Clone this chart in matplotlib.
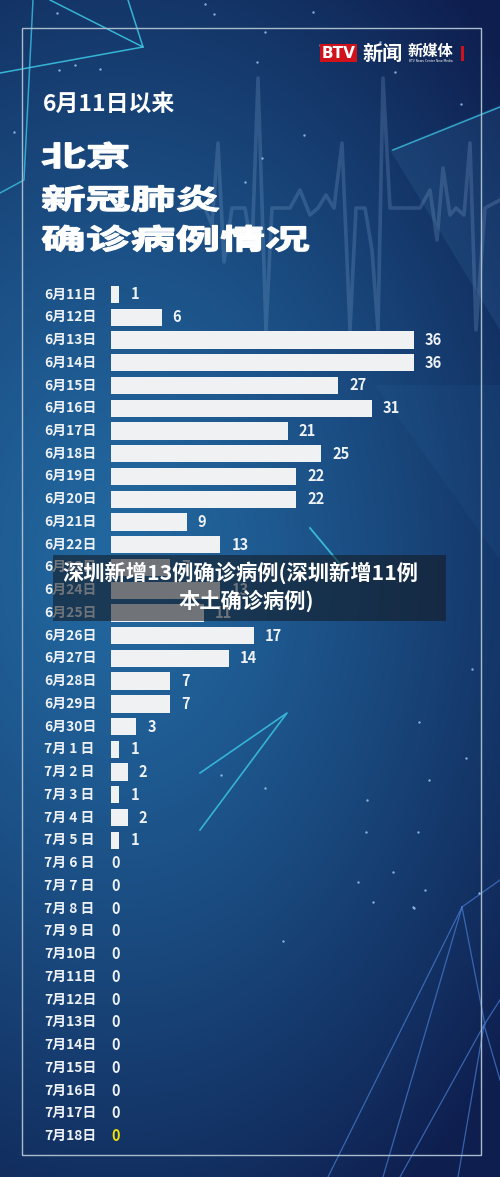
import numpy as np
import matplotlib
matplotlib.use("Agg")
import matplotlib.pyplot as plt
from matplotlib.patches import Rectangle, PathPatch
from matplotlib.textpath import TextPath
from matplotlib.font_manager import FontProperties
from matplotlib.transforms import Affine2D, blended_transform_factory

plt.rcParams['font.family'] = ['Noto Sans CJK SC', 'DejaVu Sans']

# daily confirmed cases since June 11
dates = ["6月11日", "6月12日", "6月13日", "6月14日", "6月15日", "6月16日",
         "6月17日", "6月18日", "6月19日", "6月20日", "6月21日", "6月22日",
         "6月23日", "6月24日", "6月25日", "6月26日", "6月27日", "6月28日",
         "6月29日", "6月30日", "7月 1 日", "7月 2 日", "7月 3 日", "7月 4 日",
         "7月 5 日", "7月 6 日", "7月 7 日", "7月 8 日", "7月 9 日", "7月10日",
         "7月11日", "7月12日", "7月13日", "7月14日", "7月15日", "7月16日",
         "7月17日", "7月18日"]
cases = [1, 6, 36, 36, 27, 31, 21, 25, 22, 22, 9, 13,
         7, 13, 11, 17, 14, 7, 7, 3, 1, 2, 1, 2,
         1, 0, 0, 0, 0, 0, 0, 0, 0, 0, 0, 0, 0, 0]

subtitle = "6月11日以来"
title_lines = ["北京", "新冠肺炎", "确诊病例情况"]
overlay_lines = ["深圳新增13例确诊病例(深圳新增11例", "本土确诊病例)"]

W, H = 500, 1177
fig = plt.figure(figsize=(W / 100, H / 100), dpi=100)

# background layer in pixel coordinates
bg = fig.add_axes([0, 0, 1, 1])
bg.set_xlim(0, W)
bg.set_ylim(H, 0)
bg.axis('off')

yy, xx = np.mgrid[0:H, 0:W]
d = np.sqrt(((xx - 120) / 520.0) ** 2 + ((yy - 560) / 760.0) ** 2)
d = np.clip(d, 0, 1) ** 1.3
inner = np.array([34, 104, 160]) / 255.0
outer = np.array([14, 30, 78]) / 255.0
img = inner[None, None, :] * (1 - d[..., None]) + outer[None, None, :] * d[..., None]
bg.imshow(img, extent=(0, W, H, 0), aspect='auto', zorder=0)

# light beam on the right
bg.fill([390, 500, 500], [150, 105, 330], color='#4fa0d8', alpha=0.12, lw=0, zorder=1)
bg.fill([375, 500, 500], [385, 385, 560], color='#3a85c5', alpha=0.08, lw=0, zorder=1)

# heartbeat line
hb_x = [180, 205, 212, 218, 224, 232, 245, 252, 258, 266, 272, 290, 300, 310,
        318, 326, 334, 342, 350, 356, 365, 372, 378, 383, 390, 398, 420, 430,
        437, 443, 450, 456, 464, 470, 476, 485, 500]
hb_y = [208, 208, 225, 143, 262, 208, 208, 250, 78, 330, 208, 208, 190, 215,
        208, 195, 208, 143, 330, 208, 208, 250, 330, 78, 208, 208, 208, 190,
        240, 168, 215, 208, 215, 143, 330, 208, 200]
bg.plot(hb_x, hb_y, color='#8fb4dc', alpha=0.22, lw=2.6, zorder=1)

# cyan lines
cyan = '#3fd3f0'
bg.plot([0, 143, 128], [73, 47, 0], color=cyan, lw=1.1, alpha=0.8, zorder=1)
bg.plot([143, 50], [47, 0], color=cyan, lw=1.1, alpha=0.8, zorder=1)
bg.plot([33, 24, 0], [0, 180, 193], color=cyan, lw=1.1, alpha=0.7, zorder=1)
bg.plot([500, 393], [107, 150], color=cyan, lw=1.1, alpha=0.7, zorder=1)
bg.plot([310, 345], [528, 570], color=cyan, lw=1.3, alpha=0.8, zorder=1)
bg.plot([200, 287, 200], [773, 713, 830], color=cyan, lw=1.2, alpha=0.75, zorder=1)

# mesh lines bottom right
mesh = '#4a7fd6'
for x2, y2 in [(328, 1177), (383, 1177), (485, 1025), (500, 880)]:
    bg.plot([462, x2], [907, y2], color=mesh, lw=0.9, alpha=0.7, zorder=1)
bg.plot([400, 484, 500], [1177, 1025, 1000], color=mesh, lw=0.9, alpha=0.7, zorder=1)
bg.plot([458, 484, 500], [1177, 1025, 1080], color=mesh, lw=0.9, alpha=0.7, zorder=1)

# stars
star_x = [57, 75, 100, 205, 214, 265, 257, 245, 262, 304, 320, 313, 380, 395, 461,
          14, 59, 221, 265, 466, 419, 418, 429, 367, 393, 366, 425, 358, 373, 413, 414, 472, 479, 283]
star_y = [13, 65, 69, 4, 14, 32, 62, 182, 158, 135, 45, 12, 42, 72, 104,
          132, 70, 775, 788, 758, 722, 832, 780, 800, 872, 832, 890, 882, 902, 907, 908, 669, 893, 941]
bg.scatter(star_x, star_y, s=3, color='#9fd0f5', alpha=0.8, lw=0, zorder=1)

# frame
bg.add_patch(Rectangle((22, 28), 459, 1127, fill=False, ec='#a9bccd', lw=1.0, zorder=2))

# logo
bg.add_patch(Rectangle((320, 44), 37, 18, color='#d0121b', lw=0, zorder=3))
bg.text(338.5, 53.5, "BTV", color='white', fontsize=11, fontweight='bold',
        ha='center', va='center', family=['DejaVu Sans'], zorder=4)
bg.text(362, 53, "新闻", color='white', fontsize=14.5, fontweight='bold',
        ha='left', va='center', zorder=4)
bg.text(408, 51, "新媒体", color='white', fontsize=11, fontweight='bold',
        ha='left', va='center', zorder=4)
bg.text(431, 61.5, "BTV News Center New Media", color='white', fontsize=2.2,
        ha='center', va='center', family=['DejaVu Sans'], zorder=4)
bg.add_patch(Rectangle((461, 46), 2.5, 15, color='#d0121b', lw=0, zorder=3))

# titles
bg.text(43, 104, subtitle, color='white', fontsize=16.5, fontweight='bold',
        ha='left', va='center', zorder=4)

fp = FontProperties(family='Noto Sans CJK SC', weight='bold')
for line, base in zip(title_lines, [166, 209, 249]):
    tp = TextPath((0, 0), line, size=28, prop=fp)
    path = Affine2D().scale(1.6, -1).translate(41, base).transform_path(tp)
    bg.add_patch(PathPatch(path, fc='white', ec='white', lw=0.9, zorder=4))

# bar chart
n = len(cases)
ax = fig.add_axes([111 / W, 0.02517, 45 * 8.42 / W, 0.7343])
ax.patch.set_alpha(0)
ax.barh(range(n), cases, height=0.76, color='#f0f1f2', zorder=3)
ax.set_xlim(0, 45)
ax.set_ylim(n - 0.5, -0.5)
ax.axis('off')

lab_tr = blended_transform_factory(fig.transFigure, ax.transData)
for i, (d_lab, v) in enumerate(zip(dates, cases)):
    ax.text(44 / W, i, d_lab, transform=lab_tr, color='#eef2f6', fontsize=10,
            fontweight='bold', ha='left', va='center')
    col = '#f2e000' if i == n - 1 else '#eef2f6'
    ax.text(v + 1.3 if v > 0 else 0, i, str(v), color=col, fontsize=10.5,
            fontweight='bold', ha='left', va='center')

# caption overlay
ov = fig.add_axes([0, 0, 1, 1])
ov.set_xlim(0, W)
ov.set_ylim(H, 0)
ov.axis('off')
ov.patch.set_alpha(0)
ov.add_patch(Rectangle((53, 555), 393, 66, color='#141a22', alpha=0.58, lw=0))
ov.text(240, 573, overlay_lines[0], color='white', fontsize=15.3, fontweight='bold',
        ha='center', va='center')
ov.text(246, 601, overlay_lines[1], color='white', fontsize=15.3, fontweight='bold',
        ha='center', va='center')

fig.savefig("out.png", dpi=100)
